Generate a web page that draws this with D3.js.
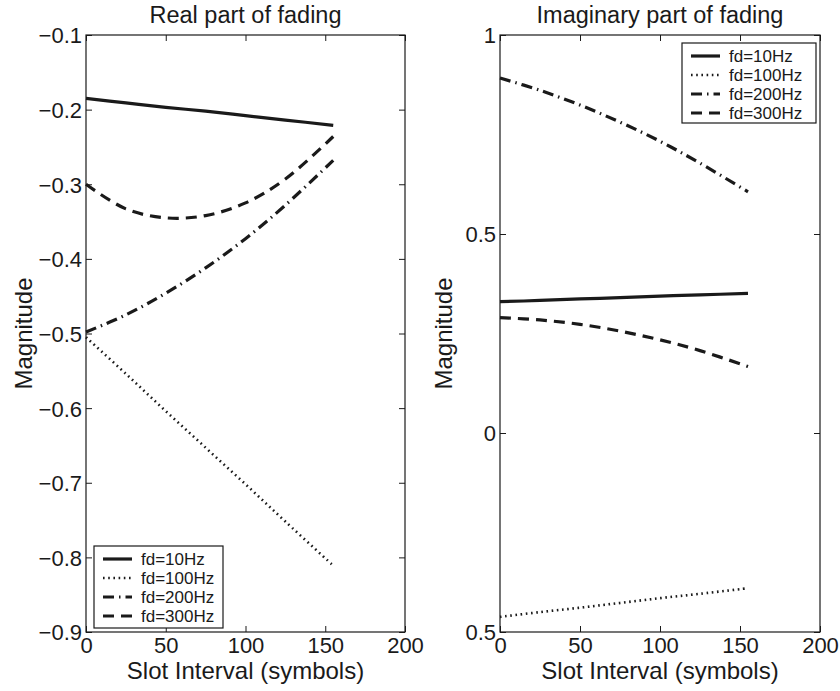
<!DOCTYPE html>
<html>
<head>
<meta charset="utf-8">
<script src="https://cdn.jsdelivr.net/npm/d3@7"></script>
<style>
  html, body { margin: 0; padding: 0; background: #fff; }
  svg text { font-family: "Liberation Sans", Arial, Helvetica, sans-serif; fill: #1a1a1a; }
</style>
</head>
<body>
<svg id="chart" width="840" height="691"></svg>
<script>
// ---------- data ----------
const slot = [0, 25, 50, 75, 100, 125, 155];
const seriesNames = ["fd=10Hz", "fd=100Hz", "fd=200Hz", "fd=300Hz"];

const real10  = [-0.185, -0.191, -0.197, -0.202, -0.208, -0.214, -0.221];
const real100 = [-0.505, -0.554, -0.604, -0.653, -0.702, -0.752, -0.811];
const real200 = [-0.498, -0.475, -0.446, -0.412, -0.373, -0.328, -0.268];
const real300 = [-0.300, -0.333, -0.345, -0.342, -0.325, -0.293, -0.236];

const imag10  = [0.330, 0.333, 0.337, 0.340, 0.344, 0.347, 0.351];
const imag100 = [-0.462, -0.450, -0.439, -0.427, -0.415, -0.404, -0.390];
const imag200 = [0.892, 0.861, 0.824, 0.781, 0.733, 0.678, 0.606];
const imag300 = [0.290, 0.284, 0.273, 0.256, 0.234, 0.207, 0.167];

const xTicks = [0, 50, 100, 150, 200];
const realYTicks = [-0.9, -0.8, -0.7, -0.6, -0.5, -0.4, -0.3, -0.2, -0.1];
const realYLabels = ["−0.9", "−0.8", "−0.7", "−0.6", "−0.5", "−0.4", "−0.3", "−0.2", "−0.1"];
const imagYTicks = [-0.5, 0, 0.5, 1];
const imagYLabels = ["0.5", "0", "0.5", "1"];

// ---------- styles ----------
const lineStyles = [
  { width: 3.2, dash: null },
  { width: 2.6, dash: "1.6,3.6" },
  { width: 3.2, dash: "11,5,1.5,5" },
  { width: 3.2, dash: "11,7" }
];

const svg = d3.select("#chart");

function drawPanel(opts) {
  const { x0, x1, y0, y1, yDomain, yTicks, yLabels, series, title, legend } = opts;
  const x = d3.scaleLinear().domain([0, 200]).range([x0, x1]);
  const y = d3.scaleLinear().domain(yDomain).range([y1, y0]);
  const g = svg.append("g");

  // lines
  const line = d3.line()
    .x((d, i) => x(slot[i]))
    .y(d => y(d))
    .curve(d3.curveCatmullRom);
  series.forEach((vals, k) => {
    g.append("path")
      .attr("d", line(vals))
      .attr("fill", "none")
      .attr("stroke", "#1a1a1a")
      .attr("stroke-width", lineStyles[k].width)
      .attr("stroke-dasharray", lineStyles[k].dash)
      .attr("stroke-linecap", "butt");
  });

  // axes (inward ticks)
  const axB = g.append("g").attr("transform", `translate(0,${y1})`)
    .call(d3.axisBottom(x).tickValues(xTicks).tickSize(-6).tickSizeOuter(0).tickPadding(5).tickFormat(d3.format("d")));
  const axT = g.append("g").attr("transform", `translate(0,${y0})`)
    .call(d3.axisTop(x).tickValues(xTicks).tickSize(-6).tickSizeOuter(0).tickFormat(""));
  const axL = g.append("g").attr("transform", `translate(${x0},0)`)
    .call(d3.axisLeft(y).tickValues(yTicks).tickSize(-6).tickSizeOuter(0).tickPadding(4)
      .tickFormat((d, i) => yLabels[i]));
  const axR = g.append("g").attr("transform", `translate(${x1},0)`)
    .call(d3.axisRight(y).tickValues(yTicks).tickSize(-6).tickSizeOuter(0).tickFormat(""));
  [axB, axT, axL, axR].forEach(a => {
    a.select(".domain").remove();
    a.selectAll(".tick line").attr("stroke", "#1a1a1a").attr("stroke-width", 1);
    a.selectAll("text").attr("font-size", 22).attr("fill", "#1a1a1a")
      .attr("font-family", "Liberation Sans, Arial, sans-serif");
  });
  axL.selectAll("text").attr("dy", "0.36em");

  // box
  g.append("rect")
    .attr("x", x0).attr("y", y0).attr("width", x1 - x0).attr("height", y1 - y0)
    .attr("fill", "none").attr("stroke", "#1a1a1a").attr("stroke-width", 1.2);

  // title and labels
  g.append("text").attr("x", (x0 + x1) / 2).attr("y", 23)
    .attr("text-anchor", "middle").attr("font-size", 23.5).text(title);
  g.append("text").attr("x", (x0 + x1) / 2).attr("y", 679)
    .attr("text-anchor", "middle").attr("font-size", 24).text("Slot Interval (symbols)");
  g.append("text")
    .attr("transform", `translate(${opts.ylabX},${(y0 + y1) / 2}) rotate(-90)`)
    .attr("text-anchor", "middle").attr("dominant-baseline", "central")
    .attr("font-size", 24).text("Magnitude");

  // legend
  const lg = g.append("g");
  lg.append("rect")
    .attr("x", legend.x).attr("y", legend.y).attr("width", legend.w).attr("height", legend.h)
    .attr("fill", "#fff").attr("stroke", "#1a1a1a").attr("stroke-width", 1.2);
  seriesNames.forEach((name, k) => {
    const cy = legend.y + 13 + k * 19;
    lg.append("line")
      .attr("x1", legend.x + 9).attr("x2", legend.x + 38)
      .attr("y1", cy).attr("y2", cy)
      .attr("stroke", "#1a1a1a")
      .attr("stroke-width", lineStyles[k].width)
      .attr("stroke-dasharray", lineStyles[k].dash);
    lg.append("text")
      .attr("x", legend.x + 47).attr("y", cy)
      .attr("dominant-baseline", "central")
      .attr("font-size", 17).text(name);
  });
}

drawPanel({
  x0: 86, x1: 405, y0: 35, y1: 632,
  yDomain: [-0.9, -0.1], yTicks: realYTicks, yLabels: realYLabels,
  series: [real10, real100, real200, real300],
  title: "Real part of fading", ylabX: 23,
  legend: { x: 94, y: 546, w: 129, h: 82 }
});

drawPanel({
  x0: 500, x1: 820, y0: 35, y1: 632,
  yDomain: [-0.5, 1], yTicks: imagYTicks, yLabels: imagYLabels,
  series: [imag10, imag100, imag200, imag300],
  title: "Imaginary part of fading", ylabX: 443,
  legend: { x: 682, y: 43, w: 134, h: 80 }
});
</script>
</body>
</html>
